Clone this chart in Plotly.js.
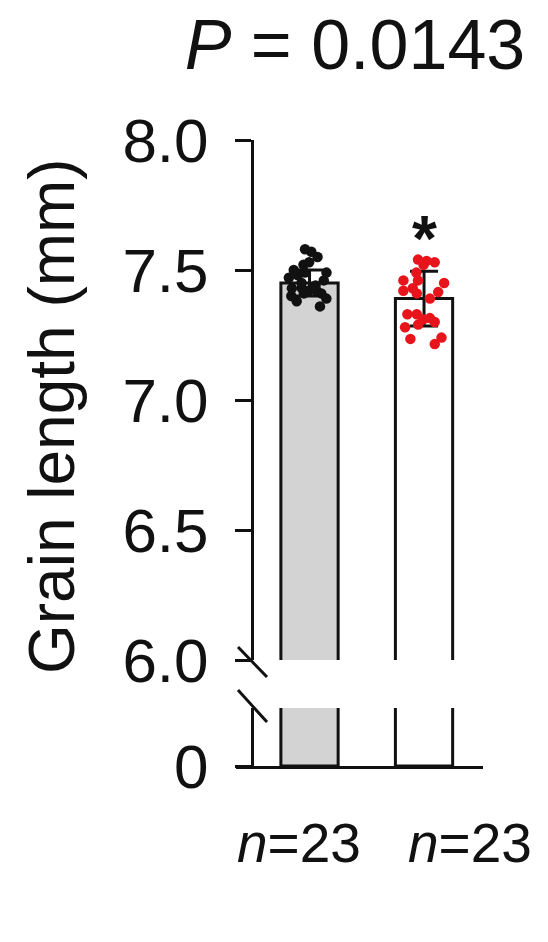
<!DOCTYPE html>
<html>
<head>
<meta charset="utf-8">
<script src="https://cdn.plot.ly/plotly-3.0.1.min.js"></script>
<style>
html,body{margin:0;padding:0;background:#fff;}
#chart{width:548px;height:942px;}
</style>
</head>
<body>
<div id="chart"></div>
<script>
// ---- data ----
const groups = ['Group 1', 'Group 2'];
const groupPos = [0, 1];
const means = [7.45, 7.39];
const sds = [0.05, 0.105];
const nLabels = ['n=23', 'n=23'];
const pText = '0.0143';
const grayDots = [7.58, 7.57, 7.55, 7.53, 7.52, 7.50, 7.49, 7.49, 7.48, 7.47, 7.46, 7.45,
                  7.44, 7.43, 7.43, 7.42, 7.42, 7.41, 7.41, 7.40, 7.39, 7.38, 7.36];
const redDots = [7.54, 7.535, 7.53, 7.52, 7.49, 7.46, 7.46, 7.45, 7.43, 7.42, 7.415, 7.41,
                 7.39, 7.33, 7.33, 7.315, 7.31, 7.30, 7.29, 7.28, 7.24, 7.235, 7.215];
const upperTicks = [6.0, 6.5, 7.0, 7.5, 8.0];
const lowerTicks = [0];

// ---- layout geometry (pixels) ----
const W = 548, H = 942;
const mL = 236, mR = 65, mT = 140, mB = 176;
const pw = W - mL - mR, ph = H - mT - mB;
const px = x => (x - mL) / pw;
const py = y => (H - mB - y) / ph;
const axisX = px(252);

const barColors = ['#d3d3d3', '#ffffff'];
const lineW = 3;

const traces = [
  { type: 'bar', x: groupPos, y: means, width: 0.5, xaxis: 'x', yaxis: 'y',
    marker: { color: barColors, line: { color: '#111', width: lineW } },
    error_y: { type: 'data', array: sds, visible: true, color: '#111', thickness: lineW, width: 14 },
    hoverinfo: 'skip', showlegend: false },
  { type: 'bar', x: groupPos, y: means, width: 0.5, xaxis: 'x', yaxis: 'y2',
    marker: { color: barColors, line: { color: '#111', width: lineW } },
    hoverinfo: 'skip', showlegend: false },
  { type: 'box', x: grayDots.map(() => groupPos[0]), y: grayDots, xaxis: 'x', yaxis: 'y',
    boxpoints: 'all', jitter: 1, pointpos: 0, width: 0.42,
    line: { width: 0, color: 'rgba(0,0,0,0)' }, fillcolor: 'rgba(0,0,0,0)',
    marker: { color: '#111', size: 10.5 }, showlegend: false, hoverinfo: 'y' },
  { type: 'box', x: redDots.map(() => groupPos[1]), y: redDots, xaxis: 'x', yaxis: 'y',
    boxpoints: 'all', jitter: 1, pointpos: 0, width: 0.42,
    line: { width: 0, color: 'rgba(0,0,0,0)' }, fillcolor: 'rgba(0,0,0,0)',
    marker: { color: '#e8141c', size: 10.5 }, showlegend: false, hoverinfo: 'y' }
];

const font = 'Liberation Sans, Arial, Helvetica, sans-serif';

const layout = {
  width: W, height: H,
  margin: { l: mL, r: mR, t: mT, b: mB, pad: 0 },
  paper_bgcolor: '#fff', plot_bgcolor: '#fff',
  showlegend: false,
  font: { family: font, color: '#111' },
  title: { text: '<i>P</i> = ' + pText, font: { size: 70, family: font, color: '#111' },
           xref: 'container', x: 355 / W, xanchor: 'center',
           yref: 'container', y: 1 - 44 / H, yanchor: 'middle' },
  xaxis: { domain: [0, 1], range: [-0.642, 1.515], anchor: 'y2',
           showline: true, linecolor: '#111', linewidth: lineW,
           showticklabels: false, ticks: '', showgrid: false, zeroline: false, fixedrange: true },
  yaxis: { domain: [py(660), 1], range: [6, 8], anchor: 'free', position: axisX,
           tickvals: upperTicks, ticktext: upperTicks.map(v => v.toFixed(1)),
           ticks: 'outside', ticklen: 16, tickwidth: lineW, tickcolor: '#111',
           showline: true, linecolor: '#111', linewidth: lineW,
           tickfont: { size: 62, family: font, color: '#111' }, ticklabelstandoff: 14,
           showgrid: false, zeroline: false, fixedrange: true },
  yaxis2: { domain: [0, py(708)], range: [0, 1], anchor: 'free', position: axisX,
            tickvals: lowerTicks, ticktext: lowerTicks.map(String),
            ticks: 'outside', ticklen: 16, tickwidth: lineW, tickcolor: '#111',
            showline: true, linecolor: '#111', linewidth: lineW,
            tickfont: { size: 62, family: font, color: '#111' }, ticklabelstandoff: 14,
            showgrid: false, zeroline: false, fixedrange: true },
  annotations: [
    { text: 'Grain length (mm)', textangle: -90, xref: 'paper', yref: 'paper',
      x: px(52), y: py(416), xanchor: 'center', yanchor: 'middle', showarrow: false,
      font: { size: 64, family: font, color: '#111' } },
    { text: '<i>n</i>=' + nLabels[0].split('=')[1], xref: 'paper', yref: 'paper',
      x: px(298.5), y: py(843), xanchor: 'center', yanchor: 'middle', showarrow: false,
      font: { size: 55, family: font, color: '#111' } },
    { text: '<i>n</i>=' + nLabels[1].split('=')[1], xref: 'paper', yref: 'paper',
      x: px(470), y: py(843), xanchor: 'center', yanchor: 'middle', showarrow: false,
      font: { size: 55, family: font, color: '#111' } },
    { text: '<b>*</b>', xref: 'x', yref: 'y', x: groupPos[1], y: means[1] + sds[1] - 0.02,
      xanchor: 'center', yanchor: 'bottom', showarrow: false,
      font: { size: 64, family: font, color: '#111' } }
  ],
  shapes: [
    { type: 'line', xref: 'paper', yref: 'paper', x0: px(238), y0: py(647), x1: px(267), y1: py(677),
      line: { color: '#111', width: lineW } },
    { type: 'line', xref: 'paper', yref: 'paper', x0: px(238), y0: py(690), x1: px(267), y1: py(722),
      line: { color: '#111', width: lineW } }
  ]
};

Plotly.newPlot('chart', traces, layout, { displayModeBar: false, staticPlot: true });
</script>
</body>
</html>
